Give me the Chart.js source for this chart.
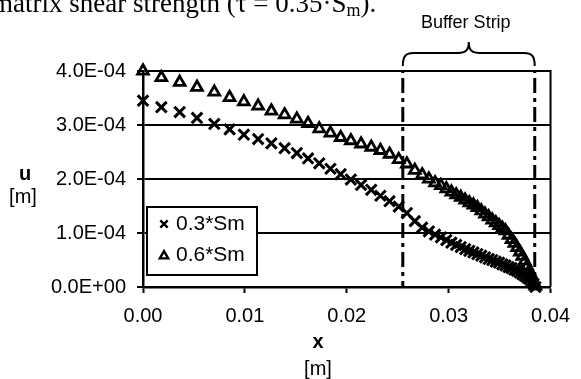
<!DOCTYPE html>
<html><head><meta charset="utf-8">
<script src="https://cdn.jsdelivr.net/npm/chart.js@4/dist/chart.umd.min.js"></script>
<style>html,body{margin:0;padding:0;background:#fff;overflow:hidden;}</style>
</head><body>
<canvas id="c" width="581" height="379"></canvas>
<script>
// ---- data ----
const xValues = [0, 0.0018, 0.0036, 0.0053, 0.0070, 0.0085, 0.0099, 0.0113, 0.0126, 0.0139,
  0.0151, 0.0162, 0.0173, 0.0184, 0.0194, 0.0204, 0.0214, 0.0224, 0.0233, 0.0242,
  0.0251, 0.0259, 0.02668, 0.02740, 0.02806, 0.02867, 0.02924, 0.02977, 0.03027, 0.03074,
  0.03119, 0.03162, 0.03203, 0.03243, 0.03282, 0.03320, 0.03357, 0.03393, 0.03428, 0.03462,
  0.03495, 0.03527, 0.03558, 0.03588, 0.03617, 0.03645, 0.03672, 0.03698, 0.03723, 0.03747,
  0.03770, 0.03792, 0.03813, 0.03833, 0.03852];
const u03 = [3.45e-4, 3.33e-4, 3.24e-4, 3.13e-4, 3.02e-4, 2.92e-4, 2.82e-4, 2.74e-4, 2.66e-4, 2.57e-4,
  2.48e-4, 2.38e-4, 2.29e-4, 2.19e-4, 2.09e-4, 1.99e-4, 1.89e-4, 1.80e-4, 1.69e-4, 1.59e-4,
  1.49e-4, 1.37e-4, 1.22e-4, 1.10e-4, 1.03e-4, 0.97e-4, 0.92e-4, 0.87e-4, 0.82e-4, 0.78e-4,
  0.74e-4, 0.70e-4, 0.67e-4, 0.64e-4, 0.61e-4, 0.58e-4, 0.55e-4, 0.52e-4, 0.50e-4, 0.47e-4,
  0.45e-4, 0.42e-4, 0.40e-4, 0.37e-4, 0.35e-4, 0.32e-4, 0.30e-4, 0.27e-4, 0.24e-4, 0.21e-4,
  0.18e-4, 0.15e-4, 0.11e-4, 0.06e-4, 0.0];
const u06 = [4.00e-4, 3.88e-4, 3.79e-4, 3.70e-4, 3.61e-4, 3.51e-4, 3.43e-4, 3.35e-4, 3.26e-4, 3.19e-4,
  3.11e-4, 3.03e-4, 2.93e-4, 2.85e-4, 2.77e-4, 2.71e-4, 2.65e-4, 2.59e-4, 2.53e-4, 2.46e-4,
  2.36e-4, 2.28e-4, 2.16e-4, 2.08e-4, 2.00e-4, 1.93e-4, 1.88e-4, 1.82e-4, 1.76e-4, 1.71e-4,
  1.66e-4, 1.61e-4, 1.56e-4, 1.52e-4, 1.47e-4, 1.41e-4, 1.35e-4, 1.30e-4, 1.24e-4, 1.19e-4,
  1.14e-4, 1.09e-4, 1.04e-4, 0.96e-4, 0.88e-4, 0.81e-4, 0.73e-4, 0.65e-4, 0.57e-4, 0.48e-4,
  0.39e-4, 0.30e-4, 0.20e-4, 0.10e-4, 0.02e-4];
const seriesLabels = ['0.3*Sm', '0.6*Sm'];
const xTickLabels = ['0.00', '0.01', '0.02', '0.03', '0.04'];
const yTickLabels = ['0.0E+00', '1.0E-04', '2.0E-04', '3.0E-04', '4.0E-04'];
const bufferStripX = [0.0255, 0.03845];
const bufferStripLabel = 'Buffer Strip';
const xTitle = ['x', '[m]'];
const yTitle = ['u', '[m]'];
const captionText = 'matrix shear strength (\u03C4 = 0.35\u00B7S';

// ---- build ----
const toPts = (xs, ys) => xs.map((x, i) => ({x: x, y: ys[i]}));
const SANS = "'Liberation Sans', Arial, sans-serif";

const decor = {
  id: 'decor',
  afterDatasetsDraw(chart) {
    const ctx = chart.ctx, a = chart.chartArea;
    ctx.save();
    // right frame
    ctx.strokeStyle = '#000'; ctx.lineWidth = 2;
    ctx.beginPath(); ctx.moveTo(a.right, a.top - 1); ctx.lineTo(a.right, a.bottom); ctx.stroke();
    // legend box
    const lx = 147, ly = 207, lw = 110, lh = 68;
    ctx.fillStyle = '#fff'; ctx.fillRect(lx, ly, lw, lh);
    ctx.lineWidth = 2; ctx.strokeStyle = '#000'; ctx.strokeRect(lx, ly, lw, lh);
    const ds = chart.data.datasets;
    const rows = [224, 255];
    [0, 1].forEach((k) => {
      const d = ds[k];
      ctx.strokeStyle = '#000'; ctx.fillStyle = 'rgba(0,0,0,0)';
      ctx.lineWidth = 2.4;
      Chart.helpers.drawPoint(ctx, {pointStyle: d.pointStyle, radius: k === 0 ? 5.2 : 4.8, rotation: 0, borderWidth: 2.4}, 164, rows[k] + (k === 1 ? 1 : 0));
      ctx.fillStyle = '#000';
      ctx.font = "21px " + SANS;
      ctx.textAlign = 'left'; ctx.textBaseline = 'middle';
      ctx.fillText(d.label, 176, rows[k]);
    });
    ctx.restore();
  },
  afterDraw(chart) {
    const ctx = chart.ctx, xs = chart.scales.x;
    ctx.save();
    ctx.fillStyle = '#000'; ctx.strokeStyle = '#000';
    // brace
    const x1 = xs.getPixelForValue(bufferStripX[0]);
    const x2 = xs.getPixelForValue(bufferStripX[1]);
    const xm = (x1 + x2) / 2;
    const yb = 66, yt = 53, yp = 42;
    ctx.lineWidth = 2;
    ctx.beginPath();
    ctx.moveTo(x1, yb);
    ctx.bezierCurveTo(x1, yt + 3, x1 + 3, yt, x1 + 11, yt);
    ctx.lineTo(xm - 11, yt);
    ctx.bezierCurveTo(xm - 3, yt, xm, yt - 3, xm, yp);
    ctx.bezierCurveTo(xm, yt - 3, xm + 3, yt, xm + 11, yt);
    ctx.lineTo(x2 - 11, yt);
    ctx.bezierCurveTo(x2 - 3, yt, x2, yt + 3, x2, yb);
    ctx.stroke();
    ctx.font = "18px " + SANS;
    ctx.textAlign = 'center'; ctx.textBaseline = 'middle';
    ctx.fillText(bufferStripLabel, xm - 3, 23);
    // axis titles
    ctx.font = "bold 20px " + SANS;
    ctx.fillText(yTitle[0], 25, 174);
    ctx.fillText(xTitle[0], 318, 342);
    ctx.font = "20px " + SANS;
    ctx.fillText(yTitle[1], 23, 197);
    ctx.fillText(xTitle[1], 318, 369);
    // caption fragment at the very top (cut off in the reference)
    ctx.font = "27px 'Liberation Serif', serif";
    ctx.textAlign = 'left'; ctx.textBaseline = 'alphabetic';
    ctx.fillText(captionText, -8, 12);
    let w = ctx.measureText(captionText).width - 8;
    ctx.font = "18px 'Liberation Serif', serif";
    ctx.fillText('m', w, 16);
    w += ctx.measureText('m').width;
    ctx.font = "27px 'Liberation Serif', serif";
    ctx.fillText(').', w, 12);
    ctx.restore();
  }
};

new Chart(document.getElementById('c'), {
  type: 'scatter',
  data: {
    datasets: [
      { label: seriesLabels[0], data: toPts(xValues, u03), pointStyle: 'crossRot', radius: 7.5,
        borderColor: '#000', backgroundColor: 'rgba(0,0,0,0)', borderWidth: 3, clip: false, showLine: false },
      { label: seriesLabels[1], data: toPts(xValues, u06), pointStyle: 'triangle', radius: 6.2,
        borderColor: '#000', backgroundColor: 'rgba(0,0,0,0)', borderWidth: 2.8, clip: false, showLine: false },
      { label: 'strip-start', data: [{x: bufferStripX[0], y: 0}, {x: bufferStripX[0], y: 4e-4}], showLine: true,
        pointRadius: 0, borderColor: '#000', borderWidth: 3, borderDash: [15, 5, 4, 5], borderDashOffset: 9 },
      { label: 'strip-end', data: [{x: bufferStripX[1], y: 0}, {x: bufferStripX[1], y: 4e-4}], showLine: true,
        pointRadius: 0, borderColor: '#000', borderWidth: 3, borderDash: [15, 5, 4, 5], borderDashOffset: 9 }
    ]
  },
  options: {
    responsive: false, animation: false, devicePixelRatio: 1,
    layout: { padding: { top: 71, right: 21, left: 0, bottom: 0 } },
    plugins: { legend: { display: false }, tooltip: { enabled: false }, title: { display: false } },
    scales: {
      x: {
        type: 'linear', min: 0, max: 0.04,
        ticks: { stepSize: 0.01, color: '#000', padding: 11, font: { family: SANS, size: 20 },
          callback: (v, i) => xTickLabels[i] },
        grid: { drawOnChartArea: false, drawTicks: true, tickLength: 6, tickWidth: 2, tickColor: '#000' },
        border: { color: '#000', width: 2.5 },
        afterFit: (s) => { s.height = 92; }
      },
      y: {
        min: 0, max: 4e-4,
        ticks: { stepSize: 1e-4, color: '#000', padding: 11, font: { family: SANS, size: 20 },
          callback: (v, i) => yTickLabels[i] },
        grid: { color: '#000', lineWidth: 2, drawTicks: true, tickLength: 6, tickWidth: 2, tickColor: '#000' },
        border: { color: '#000', width: 2.5 },
        afterFit: (s) => { s.width = 143; }
      }
    }
  },
  plugins: [decor]
});
</script>
</body></html>
